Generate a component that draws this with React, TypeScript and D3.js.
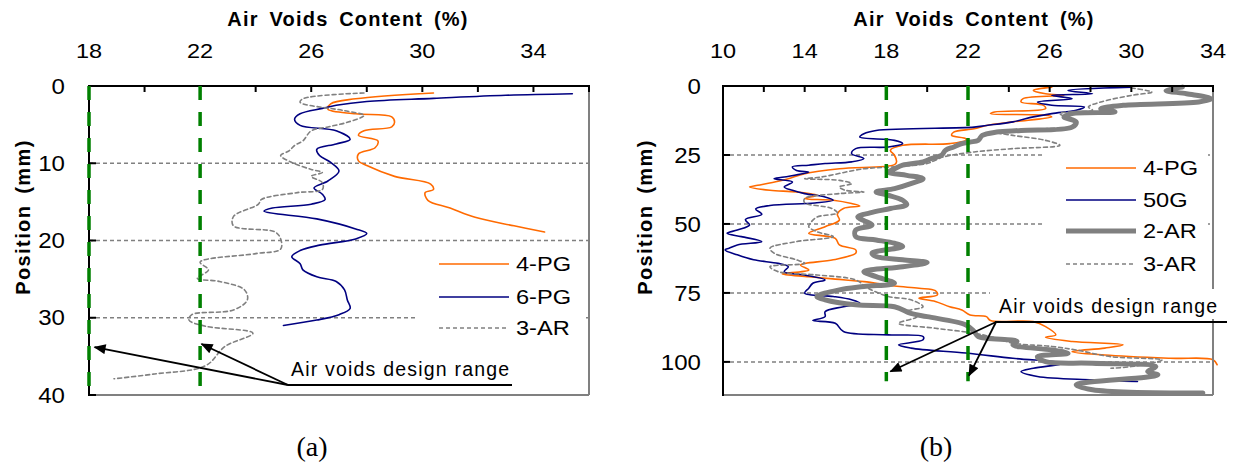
import React from 'react';
import * as d3 from 'd3';

type Pt = [number, number]; // [air voids %, position mm]

// ---- panel (a) data ----
const a4PG: Pt[] = [
  [30.4, 0.9], [27.6, 1.65], [26.7, 2.3], [26.6, 3.0], [27.6, 3.6], [28.9, 4.0], [29.0, 4.7], [28.9, 5.3],
  [27.9, 5.8], [27.7, 6.4], [28.4, 7.1], [28.3, 8.0], [27.7, 8.8], [27.7, 9.7], [28.0, 10.3], [29.0, 11.7],
  [30.3, 12.7], [30.4, 13.4], [30.1, 13.8], [30.2, 14.8], [31.0, 15.8], [31.9, 17.0], [33.3, 18.1], [34.4, 18.9],
];
const a6PG: Pt[] = [
  [35.4, 1.0], [33.0, 1.2], [30.4, 1.6], [28.0, 2.0], [26.9, 2.5], [26.4, 2.9], [25.6, 3.6], [25.4, 4.3],
  [25.6, 5.1], [26.9, 5.8], [27.4, 6.9], [26.9, 7.5], [26.2, 8.2], [26.3, 9.0], [26.7, 9.9], [27.0, 11.0],
  [26.6, 12.3], [26.1, 13.2], [26.4, 14.0], [26.5, 14.7], [26.0, 15.3], [24.6, 15.8], [24.3, 16.2], [26.2, 17.2],
  [27.6, 18.5], [28.0, 19.1], [27.6, 19.8], [26.3, 20.6], [25.6, 21.3], [25.3, 22.1], [25.6, 23.0], [25.7, 23.8],
  [26.2, 24.7], [26.9, 25.3], [27.2, 26.4], [27.3, 27.7], [27.4, 28.8], [27.0, 29.6], [26.2, 30.3], [25.0, 31.0],
];
const a3AR: Pt[] = [
  [27.9, 0.9], [25.7, 1.65], [25.6, 2.1], [27.2, 3.2], [27.9, 3.8], [27.3, 4.7], [26.6, 5.3], [26.0, 5.8],
  [25.7, 7.1], [25.4, 7.7], [25.2, 8.4], [24.9, 9.0], [25.3, 9.9], [26.0, 10.8], [26.4, 11.2], [26.0, 11.7],
  [26.4, 12.5], [26.4, 13.4], [25.5, 13.8], [24.2, 14.7], [24.1, 15.3], [23.2, 16.9], [23.2, 18.1], [24.7, 18.9],
  [24.9, 19.8], [24.9, 21.1], [24.0, 21.7], [22.0, 22.8], [22.3, 23.8], [21.9, 24.9], [22.7, 25.3], [23.6, 26.4],
  [23.7, 27.7], [23.2, 29.0], [21.7, 29.6], [21.6, 30.3], [22.2, 31.1], [23.9, 32.0], [22.9, 33.7], [22.2, 36.2],
  [20.3, 37.3], [18.9, 37.9],
];

// ---- panel (b) data ----
const b4PG: Pt[] = [
  [26.1, 0.4], [25.2, 1.6], [25.8, 2.8], [26.7, 3.4], [24.7, 4.6], [24.6, 5.8], [25.7, 7.0], [25.8, 8.2],
  [23.3, 9.4], [23.1, 10.0], [25.8, 10.6], [26.1, 11.2], [24.2, 13.0], [22.9, 14.3], [22.3, 15.5], [21.3, 16.7],
  [21.2, 17.9], [21.9, 19.1], [21.9, 19.7], [21.1, 20.9], [18.8, 21.5], [18.2, 23.3], [18.4, 25.1], [18.5, 27.5],
  [18.4, 28.5], [15.7, 30.0], [14.0, 31.8], [13.2, 33.6], [12.7, 34.5], [11.7, 36.0], [11.3, 36.6], [12.3, 37.8],
  [13.6, 38.4], [14.6, 39.6], [14.0, 40.8], [15.4, 41.4], [16.3, 42.6], [16.7, 43.5], [15.9, 44.4], [15.6, 46.5],
  [15.7, 48.6], [15.0, 51.0], [14.2, 53.4], [15.5, 55.2], [15.7, 57.6], [16.5, 59.4], [16.5, 60.6], [15.4, 63.0],
  [13.8, 64.9], [14.2, 66.7], [12.9, 68.1], [14.2, 69.1], [15.5, 70.0], [16.9, 70.9], [18.4, 72.5], [19.6, 73.3],
  [20.4, 74.2], [20.5, 75.7], [19.6, 76.9], [20.4, 78.1], [21.1, 80.0], [21.7, 81.2], [22.1, 83.0], [22.9, 83.6],
  [23.1, 85.0], [25.2, 85.4], [25.8, 87.2], [26.3, 90.2], [25.8, 91.1], [27.1, 92.6], [29.6, 93.8], [28.7, 95.0],
  [27.1, 96.3], [28.7, 97.5], [31.9, 98.7], [34.0, 99.2], [34.2, 101.0],
];
const b50G: Pt[] = [
  [30.0, 0.4], [26.9, 1.6], [28.1, 2.8], [26.1, 3.4], [27.1, 4.6], [25.4, 5.8], [26.1, 7.0], [27.7, 7.6],
  [27.3, 8.8], [26.1, 10.0], [25.2, 11.2], [24.2, 13.0], [22.9, 14.3], [22.3, 14.9], [17.5, 16.1], [16.9, 17.3],
  [16.7, 18.5], [18.4, 19.7], [18.8, 20.9], [18.1, 22.1], [16.5, 22.7], [16.3, 24.5], [16.9, 26.3], [16.3, 27.5],
  [15.0, 28.1], [14.2, 28.7], [13.4, 29.3], [13.6, 30.6], [14.2, 31.2], [13.0, 33.0], [12.5, 33.6], [13.4, 34.8],
  [13.0, 36.6], [13.4, 37.8], [14.0, 39.0], [15.0, 40.2], [15.4, 41.4], [14.5, 42.4], [12.3, 43.3], [11.6, 44.6],
  [11.9, 46.5], [11.1, 48.4], [11.3, 50.4], [10.7, 52.2], [10.2, 53.4], [10.9, 54.6], [11.9, 56.4], [10.7, 57.6],
  [10.3, 58.8], [10.1, 59.4], [10.7, 61.2], [11.5, 63.0], [12.7, 64.3], [13.2, 65.5], [13.0, 67.3], [14.0, 68.5],
  [15.0, 70.3], [14.4, 71.5], [14.2, 73.3], [14.0, 75.1], [15.4, 76.3], [16.3, 77.5], [16.7, 78.7], [15.9, 80.0],
  [15.0, 81.8], [15.0, 83.6], [14.4, 85.0], [15.5, 86.0], [15.9, 89.0], [18.1, 90.2], [19.8, 90.8], [19.8, 92.0],
  [18.6, 93.8], [19.2, 95.0], [21.9, 96.8], [24.2, 98.7], [26.7, 100.5], [25.2, 102.3], [24.6, 103.5], [25.4, 105.3],
  [28.1, 106.5], [30.3, 107.1],
];
const b2AR: Pt[] = [
  [32.5, 0.4], [31.7, 1.6], [32.7, 2.8], [33.9, 4.6], [33.3, 5.8], [29.6, 7.0], [28.5, 8.2], [29.2, 9.4],
  [27.1, 10.0], [26.7, 11.2], [27.3, 13.0], [27.1, 14.9], [24.6, 16.1], [23.4, 16.7], [22.7, 17.9], [22.5, 19.7],
  [22.1, 20.3], [21.7, 20.9], [21.3, 22.1], [20.9, 23.3], [20.7, 25.1], [20.2, 26.3], [19.8, 27.5], [18.8, 28.7],
  [18.4, 30.0], [18.1, 31.2], [19.0, 32.4], [19.8, 33.6], [19.2, 35.4], [18.4, 37.2], [17.5, 38.4], [18.1, 39.6],
  [18.8, 41.4], [19.0, 43.0], [18.2, 44.4], [17.2, 46.0], [16.6, 47.5], [17.3, 50.4], [16.5, 52.2], [16.5, 54.6],
  [17.5, 55.8], [18.4, 57.0], [18.8, 58.2], [17.3, 60.6], [17.5, 61.8], [18.8, 63.0], [20.0, 64.0], [18.8, 65.5],
  [16.9, 67.3], [17.5, 69.1], [18.4, 71.5], [16.9, 72.7], [15.7, 73.9], [14.6, 76.3], [15.0, 77.5], [16.5, 79.3],
  [18.4, 80.0], [19.2, 82.4], [20.0, 83.6], [21.9, 86.6], [22.3, 89.0], [22.5, 90.8], [24.4, 92.6], [24.2, 93.8],
  [26.1, 95.7], [26.9, 96.9], [25.4, 98.1], [25.8, 99.9], [28.1, 100.5], [31.2, 101.7], [30.8, 103.5], [31.3, 104.7],
  [27.3, 108.3], [28.1, 110.1], [33.5, 111.3],
];
const b3AR: Pt[] = [
  [30.0, 0.7], [31.0, 2.2], [30.0, 3.4], [28.5, 5.8], [27.9, 7.6], [28.1, 8.8], [26.5, 10.0], [27.1, 12.4],
  [27.3, 14.3], [25.8, 15.5], [23.3, 16.7], [24.2, 17.9], [25.8, 19.7], [26.5, 21.5], [24.2, 22.7], [22.3, 23.9],
  [20.8, 25.7], [20.4, 26.9], [20.0, 28.1], [18.4, 29.3], [16.9, 30.0], [14.8, 33.0], [14.0, 33.6], [15.7, 34.2],
  [16.3, 35.4], [15.7, 36.6], [16.0, 37.8], [16.9, 38.4], [15.7, 39.0], [14.0, 40.8], [14.0, 42.3], [15.3, 44.3],
  [15.6, 46.0], [14.6, 47.5], [14.3, 49.5], [14.2, 51.0], [14.6, 52.8], [15.4, 54.6], [13.6, 56.4], [12.3, 58.8],
  [12.5, 60.6], [13.6, 63.0], [14.0, 64.3], [12.3, 65.5], [12.7, 67.3], [14.6, 68.5], [16.5, 70.3], [17.1, 73.3],
  [18.1, 76.3], [19.2, 77.5], [19.8, 80.0], [18.9, 81.8], [19.5, 83.6], [18.6, 86.0], [20.4, 87.8], [22.3, 89.6],
  [23.4, 91.4], [24.2, 93.2], [26.1, 94.4], [27.3, 95.7], [29.0, 98.1], [31.5, 99.3], [30.0, 101.7], [29.0, 102.3],
];

// axes / ticks
const designRange = [18, 22];
const aXDomain = [18, 36];
const aYDomain = [0, 40];
const aXTicks = [18, 22, 26, 30, 34];
const aYTicks = [0, 10, 20, 30, 40];
const aGrid = [10, 20, 30];
const bXDomain = [10, 34];
const bYDomain = [0, 112];
const bXTicks = [10, 14, 18, 22, 26, 30, 34];
const bYTicks = [0, 25, 50, 75, 100];
const bGrid = [25, 50, 75, 100];
const bDesignDepth = 107;

const FONT = 'Liberation Sans, Arial, sans-serif';
const styles: Record<string, { color: string; width: number; dash?: string }> = {
  '4-PG': { color: '#ff6a00', width: 1.6 },
  '6-PG': { color: '#000080', width: 1.6 },
  '50G': { color: '#000080', width: 1.6 },
  '2-AR': { color: '#808080', width: 5 },
  '3-AR': { color: '#808080', width: 1.6, dash: '4,3' },
};

type Series = { name: string; data: Pt[] };

// text drawn a bit wider than the font, like the original figure
function WideText(props: { x: number; y: number; anchor?: string; size: number; sx?: number; children: React.ReactNode }) {
  const { x, y, anchor, size, sx, children } = props;
  return (
    <text transform={`translate(${x},${y}) scale(${sx || 1.12},1)`} textAnchor={anchor || 'start'}
      dy="0.36em" fontSize={size} fontFamily={FONT}>{children}</text>
  );
}

function Panel(props: {
  left: number; right: number; top: number; bottom: number;
  xDomain: number[]; yDomain: number[]; xTicks: number[]; yTicks: number[]; grid: number[];
  designDepth: number; series: Series[];
  legendBox: [number, number, number, number]; legendX: number; legendY: number[];
  noteX: number; noteY: number; noteLine: [number, number]; noteFrom: [number, number];
  noteTips: Pt[]; noteBox?: [number, number, number, number];
  titleX: number; yTitleX: number; yLabelX: number; caption: string; captionX: number;
}) {
  const p = props;
  const x = d3.scaleLinear().domain(p.xDomain).range([p.left, p.right]);
  const y = d3.scaleLinear().domain(p.yDomain).range([p.top, p.bottom]);
  const line = d3.line<Pt>().x(d => x(d[0])).y(d => y(d[1])).curve(d3.curveCatmullRom.alpha(0.5));
  const minor = d3.range(p.xDomain[0] + 2, p.xDomain[1], 2);

  return (
    <g>
      {/* gridlines */}
      {p.grid.map(g => (
        <line key={'g' + g} x1={p.left} x2={p.right} y1={y(g)} y2={y(g)}
          stroke="#808080" strokeWidth={1.5} strokeDasharray="4,3" />
      ))}
      {/* series */}
      {p.series.map(s => (
        <path key={s.name} d={line(s.data) || ''} fill="none" stroke={styles[s.name].color}
          strokeWidth={styles[s.name].width} strokeDasharray={styles[s.name].dash}
          strokeLinejoin="round" strokeLinecap="round" />
      ))}
      {/* frame */}
      <line x1={p.right} x2={p.right} y1={p.top} y2={p.bottom} stroke="#808080" strokeWidth={2} />
      <line x1={p.left} x2={p.right} y1={p.bottom} y2={p.bottom} stroke="#808080" strokeWidth={2} />
      <line x1={p.left} x2={p.right + 1} y1={p.top} y2={p.top} stroke="#000" strokeWidth={2} />
      <line x1={p.left} x2={p.left} y1={p.top - 1} y2={p.bottom + 1} stroke="#000" strokeWidth={2} />
      {minor.concat([p.xDomain[1]]).map(t => (
        <line key={'mt' + t} x1={x(t)} x2={x(t)} y1={p.top} y2={p.top + 6} stroke="#000" strokeWidth={2} />
      ))}
      {p.yTicks.map(t => (
        <line key={'yt' + t} x1={p.left} x2={p.left + 7} y1={y(t)} y2={y(t)} stroke="#000" strokeWidth={2} />
      ))}
      {/* design range lines */}
      {designRange.map(v => (
        <line key={'d' + v} x1={x(v)} x2={x(v)} y1={p.top} y2={y(p.designDepth)}
          stroke="#008000" strokeWidth={3.5} strokeDasharray="14,12" />
      ))}
      {/* tick labels */}
      {p.xTicks.map(t => (
        <WideText key={'xl' + t} x={x(t)} y={50} anchor="middle" size={21}>{t}</WideText>
      ))}
      {p.yTicks.map(t => (
        <WideText key={'yl' + t} x={p.yLabelX} y={y(t)} anchor="end" size={21.5}>{t}</WideText>
      ))}
      <text x={p.titleX} y={26} textAnchor="middle" fontSize={20} fontWeight="bold" fontFamily={FONT}
        letterSpacing={1.2} wordSpacing={4}>Air Voids Content (%)</text>
      <text transform={`translate(${p.yTitleX},217) rotate(-90)`} textAnchor="middle" fontSize={20}
        fontWeight="bold" fontFamily={FONT} letterSpacing={1.4} wordSpacing={4}>Position (mm)</text>
      {/* legend */}
      <rect x={p.legendBox[0]} y={p.legendBox[1]} width={p.legendBox[2]} height={p.legendBox[3]} fill="#fff" />
      {p.series.map((s, i) => (
        <g key={'lg' + s.name}>
          <line x1={p.legendX} x2={p.legendX + 70} y1={p.legendY[i]} y2={p.legendY[i]}
            stroke={styles[s.name].color} strokeWidth={styles[s.name].width} strokeDasharray={styles[s.name].dash} />
          <WideText x={p.legendX + 77} y={p.legendY[i]} size={20} sx={1.18}>{s.name}</WideText>
        </g>
      ))}
      {/* annotation */}
      {p.noteBox && (
        <rect x={p.noteBox[0]} y={p.noteBox[1]} width={p.noteBox[2]} height={p.noteBox[3]} fill="#fff" />
      )}
      <text x={p.noteX} y={p.noteY} fontSize={19.5} fontFamily={FONT} letterSpacing={1.2}>Air voids design range</text>
      <line x1={p.noteLine[0]} x2={p.noteLine[1]} y1={p.noteFrom[1]} y2={p.noteFrom[1]} stroke="#000" strokeWidth={2} />
      {p.noteTips.map((t, i) => (
        <line key={'ar' + i} x1={p.noteFrom[0]} y1={p.noteFrom[1]} x2={x(t[0])} y2={y(t[1])}
          stroke="#000" strokeWidth={1.8} markerEnd="url(#arrowHead)" />
      ))}
      <text x={p.captionX} y={456} textAnchor="middle" fontSize={28}
        fontFamily="Liberation Serif, Times New Roman, serif">{p.caption}</text>
    </g>
  );
}

export default function App() {
  return (
    <svg width={1236} height={463} style={{ position: 'absolute', left: 0, top: 0, background: '#fff' }}>
      <defs>
        <marker id="arrowHead" viewBox="0 0 12 10" refX={11} refY={5} markerWidth={13} markerHeight={10}
          markerUnits="userSpaceOnUse" orient="auto">
          <path d="M0,0 L12,5 L0,10 z" fill="#000" />
        </marker>
      </defs>
      <Panel left={89} right={589} top={86} bottom={395}
        xDomain={aXDomain} yDomain={aYDomain} xTicks={aXTicks} yTicks={aYTicks} grid={aGrid}
        designDepth={aYDomain[1]}
        series={[{ name: '4-PG', data: a4PG }, { name: '6-PG', data: a6PG }, { name: '3-AR', data: a3AR }]}
        legendBox={[417, 246, 168, 96]} legendX={439} legendY={[264, 297, 328]}
        noteX={291} noteY={376} noteLine={[288, 512]} noteFrom={[288, 385]}
        noteTips={[[18.2, 33.8], [22.05, 33.4]]}
        titleX={348} yTitleX={30} yLabelX={65} caption="(a)" captionX={312} />
      <Panel left={723} right={1213} top={86} bottom={395}
        xDomain={bXDomain} yDomain={bYDomain} xTicks={bXTicks} yTicks={bYTicks} grid={bGrid}
        designDepth={bDesignDepth}
        series={[{ name: '4-PG', data: b4PG }, { name: '50G', data: b50G }, { name: '2-AR', data: b2AR }, { name: '3-AR', data: b3AR }]}
        legendBox={[1045, 148, 163, 138]} legendX={1066} legendY={[168, 200, 231, 264]}
        noteX={999} noteY={313} noteLine={[995, 1227]} noteFrom={[996, 322]}
        noteTips={[[18.2, 103.5], [22.05, 105]]} noteBox={[990, 289, 242, 30]}
        titleX={974} yTitleX={652} yLabelX={701} caption="(b)" captionX={936} />
    </svg>
  );
}
